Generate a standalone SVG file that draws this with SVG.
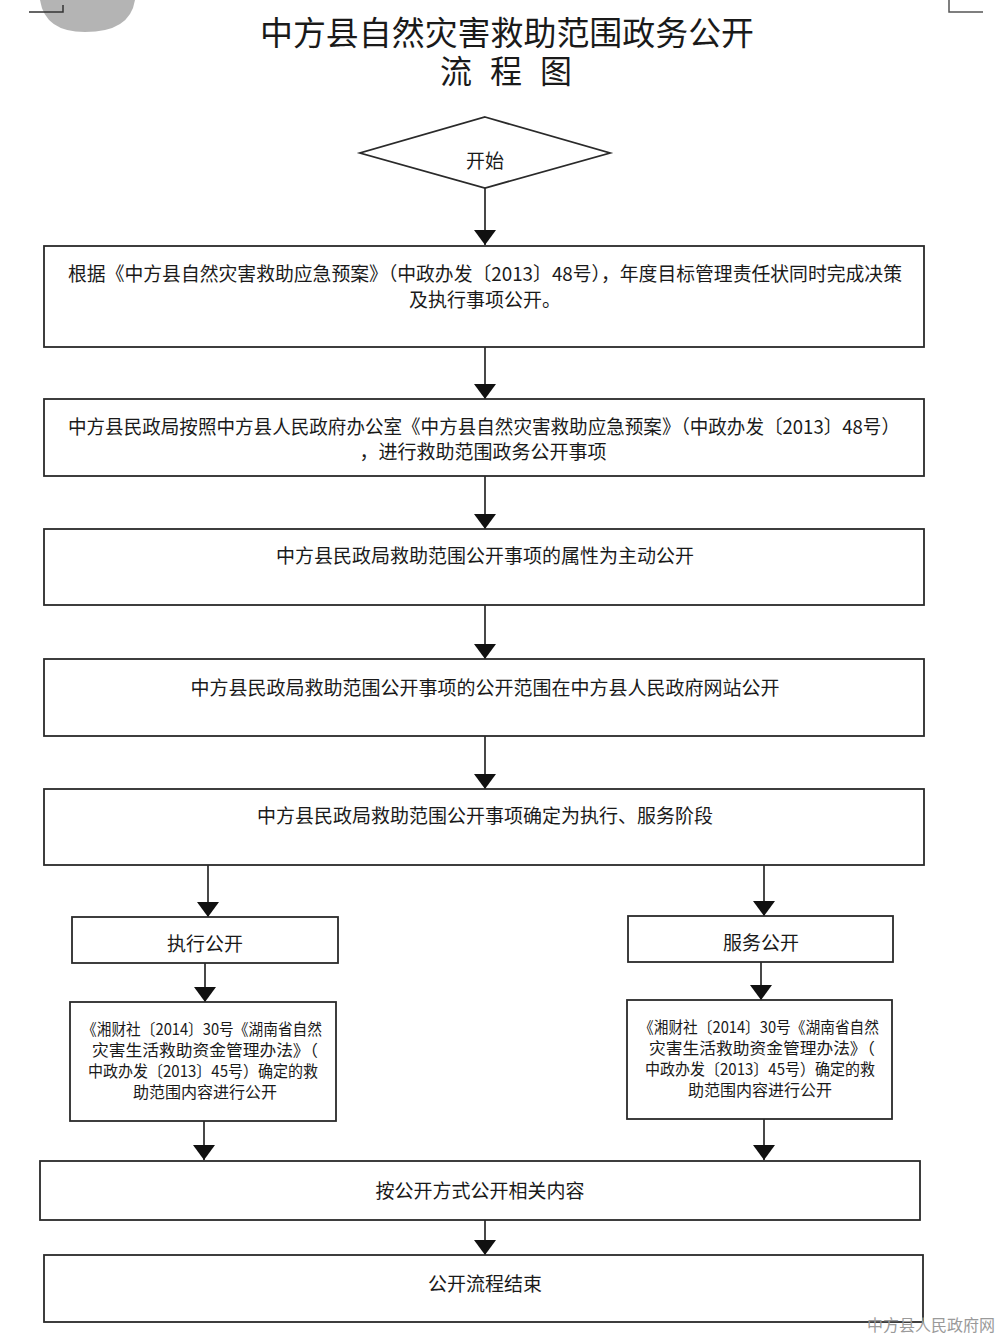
<svg xmlns="http://www.w3.org/2000/svg" width="1000" height="1337" viewBox="0 0 1000 1337">
<style>
.t{font-family:"Noto Sans CJK SC","Noto Sans",sans-serif;fill:#1a1a1a;text-anchor:middle;dominant-baseline:central}
.b{fill:#fff;stroke:#2a2a2a;stroke-width:1.8}
.m{font-size:19px}
.s{font-size:16px}
.c line{stroke:#1a1a1a;stroke-width:1.6}
</style>
<defs>
<marker id="ad" markerUnits="userSpaceOnUse" markerWidth="24" markerHeight="16" viewBox="0 0 24 16" refX="12" refY="16" orient="0">
<path d="M1,1 L23,1 L12,16 Z" fill="#111"/>
</marker>
</defs>
<rect width="1000" height="1337" fill="#fff"/>
<g id="corner-marks">
<path d="M40,0 L135,0 Q130,32 85,32 Q45,32 40,0 Z" fill="#b4b4b4"/>
<path d="M29,12 L63,12 L63,5" fill="none" stroke="#333" stroke-width="1.5"/>
<path d="M949,0 L949,12 L983,12" fill="none" stroke="#555" stroke-width="1.5"/>
</g>
<g id="title">
<text class="t" x="507" y="31" style="font-size:33px" textLength="494" lengthAdjust="spacingAndGlyphs">中方县自然灾害救助范围政务公开</text>
<text class="t" x="506" y="69" style="font-size:32px" textLength="132" lengthAdjust="spacing">流程图</text>
</g>
<g class="c" id="connectors">
<line x1="485" y1="188" x2="485" y2="245" marker-end="url(#ad)"/>
<line x1="485" y1="347" x2="485" y2="399" marker-end="url(#ad)"/>
<line x1="485" y1="476" x2="485" y2="529" marker-end="url(#ad)"/>
<line x1="485" y1="605" x2="485" y2="659" marker-end="url(#ad)"/>
<line x1="485" y1="736" x2="485" y2="789" marker-end="url(#ad)"/>
<line x1="208" y1="865" x2="208" y2="917" marker-end="url(#ad)"/>
<line x1="764" y1="865" x2="764" y2="916" marker-end="url(#ad)"/>
<line x1="205" y1="963" x2="205" y2="1002" marker-end="url(#ad)"/>
<line x1="761" y1="962" x2="761" y2="1000" marker-end="url(#ad)"/>
<line x1="204" y1="1121" x2="204" y2="1160" marker-end="url(#ad)"/>
<line x1="764" y1="1119" x2="764" y2="1160" marker-end="url(#ad)"/>
<line x1="485" y1="1220" x2="485" y2="1255" marker-end="url(#ad)"/>
</g>
<g id="start">
<polygon class="b" points="485,117 610,153 485,188 360,153"/>
<text class="t m" x="485" y="159">开始</text>
</g>
<g id="n1">
<rect class="b" x="44" y="246" width="880" height="101"/>
<text class="t m" x="485" y="272" textLength="834" lengthAdjust="spacingAndGlyphs">根据《中方县自然灾害救助应急预案》（中政办发〔2013〕48号），年度目标管理责任状同时完成决策</text>
<text class="t m" x="485" y="298">及执行事项公开。</text>
</g>
<g id="n2">
<rect class="b" x="44" y="399" width="880" height="77"/>
<text class="t m" x="484" y="425" textLength="832" lengthAdjust="spacingAndGlyphs">中方县民政局按照中方县人民政府办公室《中方县自然灾害救助应急预案》（中政办发〔2013〕48号）</text>
<text class="t m" x="483" y="450">，进行救助范围政务公开事项</text>
</g>
<g id="n3">
<rect class="b" x="44" y="529" width="880" height="76"/>
<text class="t m" x="485" y="554">中方县民政局救助范围公开事项的属性为主动公开</text>
</g>
<g id="n4">
<rect class="b" x="44" y="659" width="880" height="77"/>
<text class="t m" x="485" y="686">中方县民政局救助范围公开事项的公开范围在中方县人民政府网站公开</text>
</g>
<g id="n5">
<rect class="b" x="44" y="789" width="880" height="76"/>
<text class="t m" x="485" y="814">中方县民政局救助范围公开事项确定为执行、服务阶段</text>
</g>
<g id="n6">
<rect class="b" x="72" y="917" width="266" height="46"/>
<text class="t m" x="205" y="942">执行公开</text>
</g>
<g id="n7">
<rect class="b" x="628" y="916" width="265" height="46"/>
<text class="t m" x="761" y="941">服务公开</text>
</g>
<g id="n8">
<rect class="b" x="70" y="1002" width="266" height="119"/>
<text class="t s" x="202" y="1028" textLength="240" lengthAdjust="spacingAndGlyphs">《湘财社〔2014〕30号《湖南省自然</text>
<text class="t s" x="205" y="1049" textLength="226" lengthAdjust="spacingAndGlyphs">灾害生活救助资金管理办法》（</text>
<text class="t s" x="203" y="1070" textLength="230" lengthAdjust="spacingAndGlyphs">中政办发〔2013〕45号）确定的救</text>
<text class="t s" x="205" y="1091">助范围内容进行公开</text>
</g>
<g id="n9">
<rect class="b" x="627" y="1000" width="265" height="119"/>
<text class="t s" x="759" y="1026" textLength="240" lengthAdjust="spacingAndGlyphs">《湘财社〔2014〕30号《湖南省自然</text>
<text class="t s" x="762" y="1047" textLength="226" lengthAdjust="spacingAndGlyphs">灾害生活救助资金管理办法》（</text>
<text class="t s" x="760" y="1068" textLength="230" lengthAdjust="spacingAndGlyphs">中政办发〔2013〕45号）确定的救</text>
<text class="t s" x="760" y="1089">助范围内容进行公开</text>
</g>
<g id="n10">
<rect class="b" x="40" y="1161" width="880" height="59"/>
<text class="t m" x="480" y="1189">按公开方式公开相关内容</text>
</g>
<g id="n11">
<rect class="b" x="44" y="1255" width="879" height="67"/>
<text class="t m" x="485" y="1282">公开流程结束</text>
</g>
<g id="watermark">
<text x="995" y="1331" style="font-family:'Noto Sans CJK SC',sans-serif;font-size:16px;fill:#9a9a9a;text-anchor:end">中方县人民政府网</text>
</g>
</svg>
